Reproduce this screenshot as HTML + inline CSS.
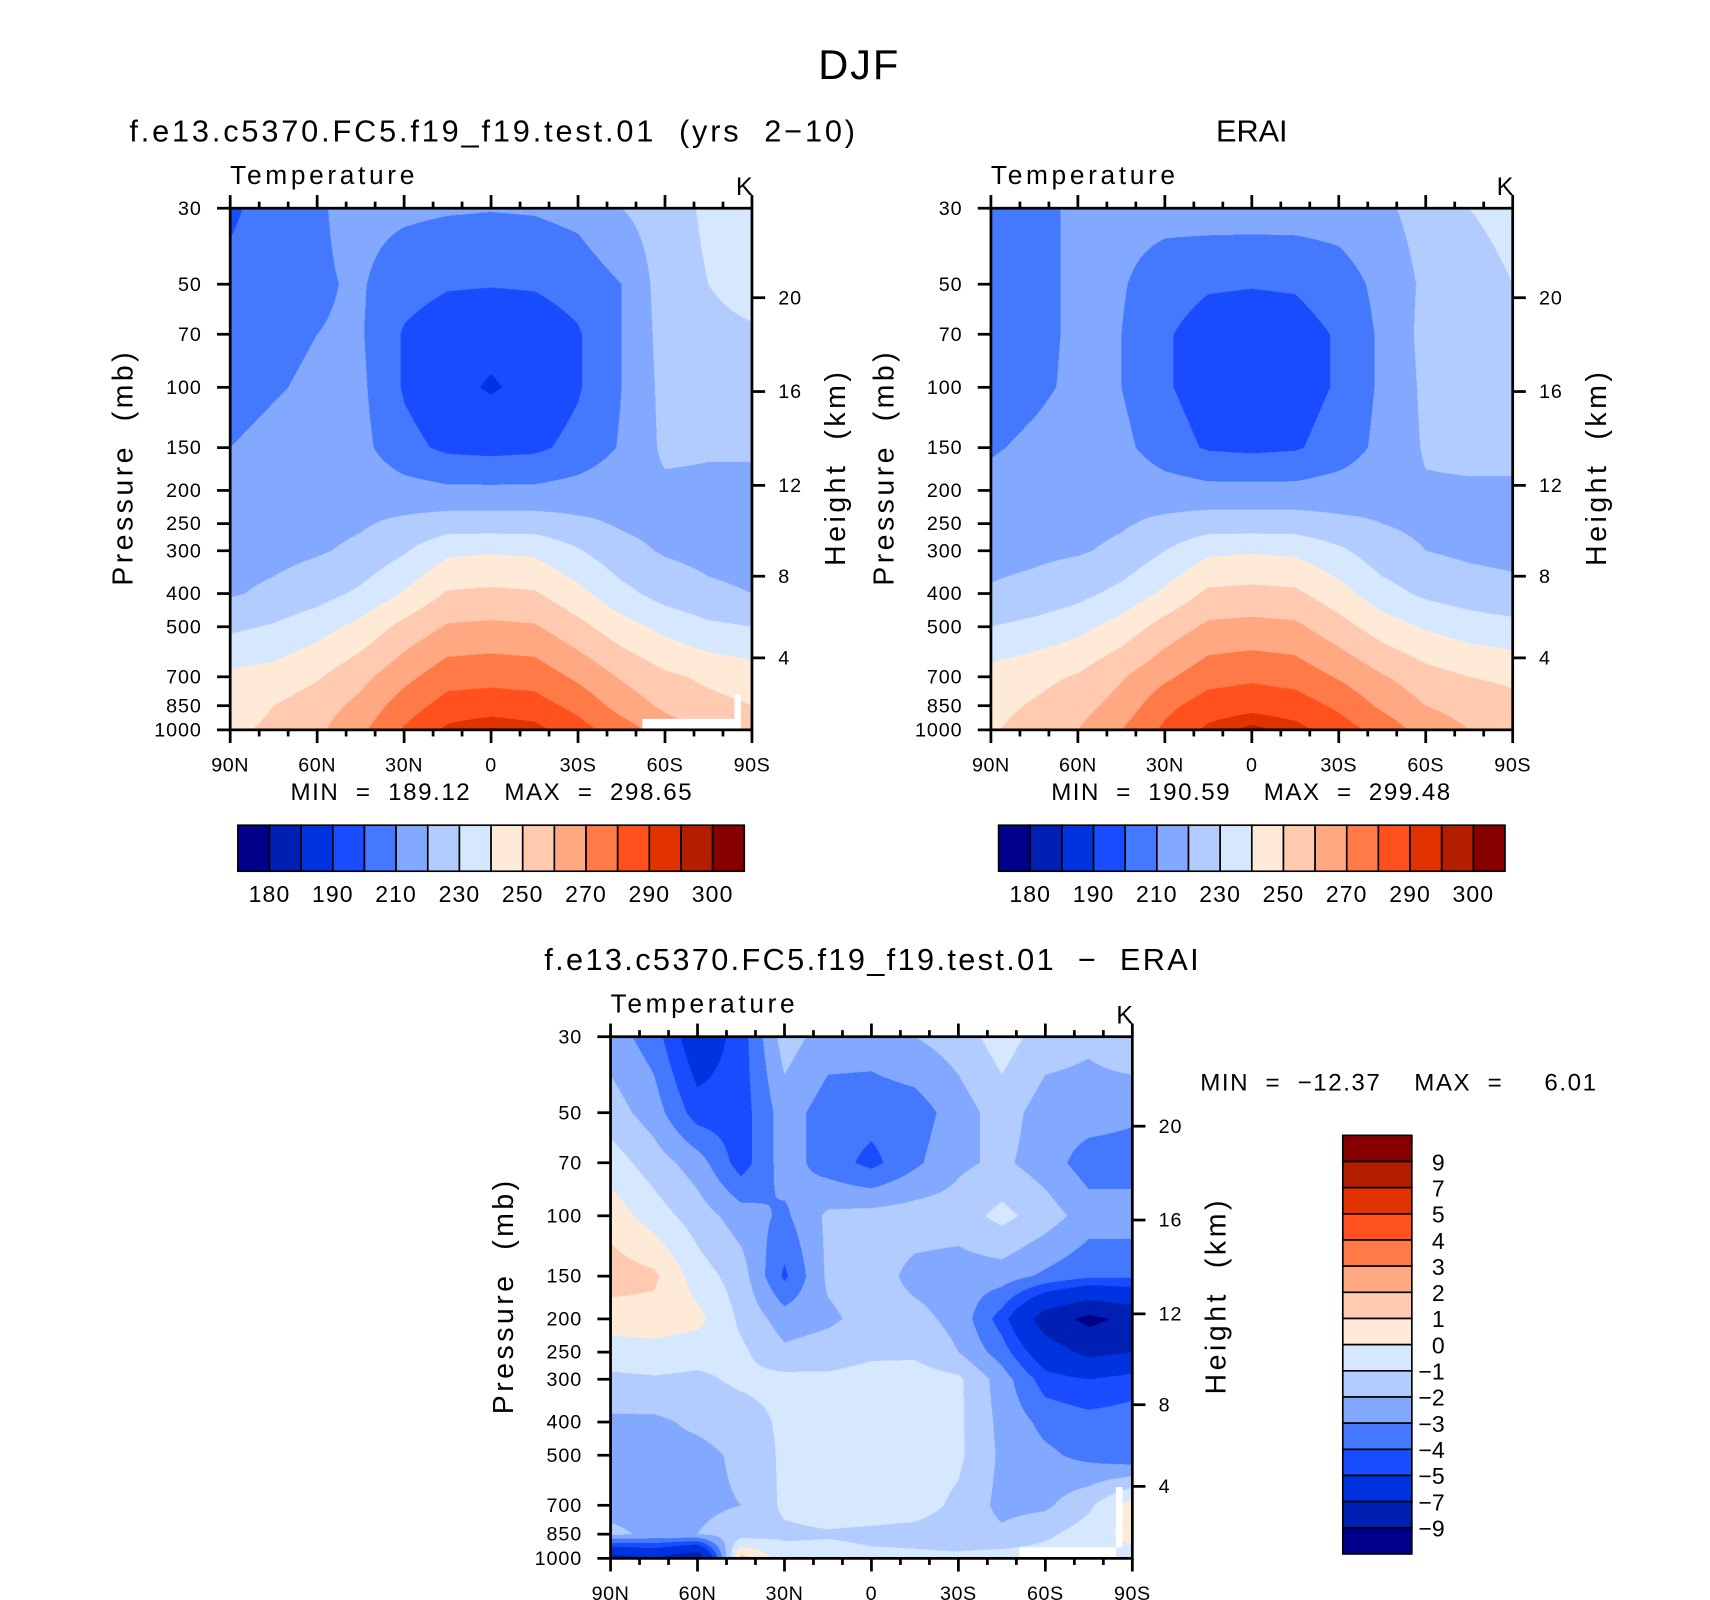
<!DOCTYPE html>
<html><head><meta charset="utf-8">
<style>
html,body{margin:0;padding:0;background:#fff;}
body{width:1710px;height:1600px;overflow:hidden;position:relative;}
#stage{position:absolute;left:0;top:0;width:1560px;height:1460px;transform:scale(1.09615,1.09589);transform-origin:0 0;}
canvas{position:absolute;}
svg{position:absolute;left:0;top:0;}
text{font-family:"Liberation Sans",sans-serif;fill:#000;white-space:pre;}
</style></head>
<body>
<div id="stage">
<canvas id="c1"></canvas>
<canvas id="c2"></canvas>
<canvas id="c3"></canvas>
<svg id="ov" width="1560" height="1460"></svg>
</div>
<script>
// ---------- data ----------
const lats = [90,75,60,45,30,15,0,-15,-30,-45,-60,-75,-90];
const plevs = [30,50,70,100,150,200,250,300,400,500,700,850,1000];
const modelT = [
[198,205,209,213,212,211,210.5,211,213,220,225,232,234],
[203,206,209,211,204,201,200.5,201,204,210,225,230,233],
[204,207,210,211,199,194,193,194,199,210,224,228,229],
[206,209,212,212,199,193,189,193,199,210,223,226,227],
[210,213,215,213,203,198,197,198,203,211,222,221,221],
[213,215,216,217,214,212,212,212,214,217,218,218,218],
[214,216,217,219,222,225,225,225,222,219,217,216,215],
[216,217,219,222,229,238,239,238,231,223,219,217,216],
[219,222,226,232,241,251,252,251,243,233,226,222,220],
[228,231,236,243,253,261,262,261,253,244,237,232,230],
[242,244,249,257,267,276,277,276,268,259,252,248,245],
[245,250,255,263,275,284,285,284,277,266,258,253,250],
[248,252,258,268,281,292,296,293,284,275,265,258,255]];
const eraT = [
[205,207,212,214,214,215,215,215,215,218,224,230,233],
[205,207,212,211,204,201,200.5,201,205,213,222,226,230],
[205,207,212,210,201,196,195,196,201,212,223,226,227],
[205,208,212,210,201,196,195,196,201,212,222,225,226],
[209,212,215,213,204,199,198,199,204,213,221,222,222],
[213,215,216,218,215,213,213,213,215,217,219,219,219],
[215,216,217,219,222,225,225,225,222,220,218,216,212],
[217,218,219,222,230,238,239,238,232,224,220,218,217],
[221,223,227,233,242,252,253,252,244,234,228,225,223],
[230,233,237,244,254,262,263,262,254,245,239,235,233],
[244,247,251,259,268,276,278,276,269,261,254,250,248],
[247,251,256,264,277,285,287,285,278,268,260,256,253],
[249,254,260,270,282,292,297,293,285,276,266,260,257]];
const diffT = [
[-2.5,-3.5,-6,-4.5,-1.5,-2.5,-2.5,-2,-1.5,-0.5,-1.5,-1.8,-1.2],
[-1.5,-2.5,-4.5,-4.5,-2.5,-3.5,-3.6,-3.5,-2.5,-1.5,-2.5,-2.5,-2.8],
[-0.5,-1.5,-2.5,-4.5,-2.5,-3.5,-4.3,-3.2,-2.2,-1.8,-2.5,-3.5,-3.5],
[0.6,-0.5,-1.5,-2.5,-3.2,-1.8,-1.6,-1.5,-1.5,-0.7,-1.5,-2.5,-2.5],
[1.5,1.2,-0.5,-1.5,-4.2,-1.8,-1.5,-2.3,-2.5,-2.5,-3.2,-3.8,-3.8],
[0.5,0.6,0.3,-1.2,-2.5,-2.2,-1.6,-1.7,-2.3,-4.5,-8,-9.5,-8.5],
[-0.5,-0.4,-0.6,-0.8,-1.8,-1.5,-1.2,-1.2,-2,-3.5,-6,-7.5,-7],
[-1.2,-1.1,-1.2,-0.8,-0.7,-0.8,-0.6,-0.5,-0.8,-2.5,-4.5,-5,-4.5],
[-2.2,-2.2,-1.8,-1.5,-0.8,-0.5,-0.5,-0.5,-0.8,-2.3,-3.3,-3.6,-3.5],
[-2.3,-2.3,-2.3,-1.8,-0.8,-0.5,-0.5,-0.5,-0.8,-2.2,-2.8,-3.3,-3.8],
[-2.3,-2.3,-2.2,-2.0,-0.8,-0.5,-0.5,-0.6,-1.2,-2.3,-2.2,-1.2,0.5],
[-1.8,-2.2,-2.0,-1.5,-1.2,-1.1,-1.2,-1.3,-1.5,-1.8,-1.2,-0.5,0.4],
[-8,-7,-9,1.5,-0.5,-0.6,-0.8,-0.8,-0.8,-0.5,-0.5,-0.5,-0.5]];
const tLevels = [180,185,190,200,210,220,230,240,250,260,270,280,290,295,300];
const tLabels = ["180","190","210","230","250","270","290","300"];
const dLevels = [-9,-7,-5,-4,-3,-2,-1,0,1,2,3,4,5,7,9];
const dLabels = ["9","7","5","4","3","2","1","0","\u22121","\u22122","\u22123","\u22124","\u22125","\u22127","\u22129"];
const palette = ["#00008a","#0020b4","#0033e0","#1a4cff","#4478ff","#82a8ff","#b3ccff","#d6e8ff","#ffead8","#ffcab0","#ffa882","#ff7a46","#ff501e","#e13200","#b41e00","#870000"];
const pTicks = [30,50,70,100,150,200,250,300,400,500,700,850,1000];
const zTicks = [4,8,12,16,20];
const xTickLabels = ["90N","60N","30N","0","30S","60S","90S"];

// ---------- helpers ----------
const W=476,H=476;
const LNR=Math.log(1000/30);
function yOfP(p){return H*Math.log(p/30)/LNR;}
function xOfLat(l){return W*(90-l)/180;}
function pOfZ(zkm){const z=zkm*1000;return z<11000?1013.25*Math.pow(1-2.25577e-5*z,5.25588):226.32*Math.exp(-(z-11000)/6341.6);}
function colorIdx(v,lev){let i=0;while(i<lev.length&&v>=lev[i])i++;return i;}
function hexRgb(h){return [parseInt(h.substr(1,2),16),parseInt(h.substr(3,2),16),parseInt(h.substr(5,2),16)];}
const rgb=palette.map(hexRgb);

function drawField(id,px,py,grid,lev){
  const cv=document.getElementById(id);
  const S=2;cv.width=W*S;cv.height=H*S;
  cv.style.left=px+'px';cv.style.top=py+'px';cv.style.width=W+'px';cv.style.height=H+'px';
  const ctx=cv.getContext('2d');const img=ctx.createImageData(W*S,H*S);
  const gy=plevs.map(yOfP), gx=lats.map(xOfLat);
  for(let j=0;j<H*S;j++){
    const y=(j+0.5)/S;let k=0;while(k<gy.length-2&&y>gy[k+1])k++;
    const ty=Math.min(1,Math.max(0,(y-gy[k])/(gy[k+1]-gy[k])));
    for(let i=0;i<W*S;i++){
      const x=(i+0.5)/S;let m=0;while(m<gx.length-2&&x>gx[m+1])m++;
      const tx=Math.min(1,Math.max(0,(x-gx[m])/(gx[m+1]-gx[m])));
      const a=grid[k][m]*(1-tx)+grid[k][m+1]*tx, b=grid[k+1][m]*(1-tx)+grid[k+1][m+1]*tx;
      const v=a*(1-ty)+b*ty;const c=rgb[colorIdx(v,lev)];
      const o=(j*W*S+i)*4;img.data[o]=c[0];img.data[o+1]=c[1];img.data[o+2]=c[2];img.data[o+3]=255;
    }
  }
  ctx.putImageData(img,0,0);
}
const NS='http://www.w3.org/2000/svg';const ov=document.getElementById('ov');
function el(tag,attrs,parent){const e=document.createElementNS(NS,tag);for(const k in attrs)e.setAttribute(k,attrs[k]);(parent||ov).appendChild(e);return e;}
function txt(s,x,y,size,anchor,parent,len){const a={x:x,y:y,'font-size':size,'text-anchor':anchor||'start'};if(len){a.textLength=len;a.lengthAdjust='spacing';}const t=el('text',a,parent);t.textContent=s;return t;}

function axes(px,py,name,title,titleX,titleLen){
  const g=el('g',{});
  
  
  const t=txt(title,titleX,py-61,28,'middle',g,titleLen);
  
  
  const tt=txt('Temperature',px,py-22,24,'start',g,168);
  
  
  const k=txt('K',px+W-7,py-12,23,'middle',g);
  
  
  el('rect',{x:px,y:py,width:W,height:H,fill:'none',stroke:'#000','stroke-width':2.5},g);
  pTicks.forEach(p=>{const y=py+yOfP(p);
    el('line',{x1:px-12,y1:y,x2:px,y2:y,stroke:'#000','stroke-width':2.5},g);
    const l=txt(String(p),px-26,y+6,18,'end',g);
    l.setAttribute('letter-spacing','0.8');
    
    });
  zTicks.forEach(z=>{const y=py+yOfP(pOfZ(z));
    el('line',{x1:px+W,y1:y,x2:px+W+12,y2:y,stroke:'#000','stroke-width':2.5},g);
    const l=txt(String(z),px+W+24,y+6,18,'start',g);
    l.setAttribute('letter-spacing','0.8');
    
    });
  for(let lat=90;lat>=-90;lat-=10){const x=px+xOfLat(lat);const major=(lat%30===0);const len=major?12:6;
    el('line',{x1:x,y1:py,x2:x,y2:py-len,stroke:'#000','stroke-width':2.5},g);
    el('line',{x1:x,y1:py+H,x2:x,y2:py+H+len,stroke:'#000','stroke-width':2.5},g);}
  xTickLabels.forEach((s,i)=>{const l=txt(s,px+i*W/6,py+H+38,18,'middle',g);
    l.setAttribute('letter-spacing','0.5');
    
    });
  const yl=txt('Pressure  (mb)',0,0,26,'middle',g,213);yl.setAttribute('transform','translate('+(px-89)+','+(py+238)+') rotate(-90)');
  
  
  const yr=txt('Height  (km)',0,0,26,'middle',g,177);yr.setAttribute('transform','translate('+(px+W+85)+','+(py+238)+') rotate(-90)');
  
  
  return g;
}
function hbar(px,py,name){
  const g=el('g',{});
  
  
  const bw=462/16;
  palette.forEach((c,i)=>{el('rect',{x:px+i*bw,y:py,width:bw,height:42,fill:c,stroke:'#000','stroke-width':1.5},g);});
  tLabels.forEach((s,i)=>{const l=txt(s,px+(2*i+1)*bw,py+70,21,'middle',g);
    l.setAttribute('letter-spacing','1');
    
    });
}

const dj=txt('DJF',783,72,38,'middle',null,73);



drawField('c1',210,190,modelT,tLevels);
drawField('c2',904,190,eraT,tLevels);
drawField('c3',557,946,diffT,dLevels);
el('rect',{x:586,y:656,width:84,height:10,fill:'#fff'});
el('rect',{x:670,y:634,width:6,height:32,fill:'#fff'});
el('rect',{x:930,y:1412,width:88,height:10,fill:'#fff'});
el('rect',{x:1018,y:1357,width:6,height:55,fill:'#fff'});

axes(210,190,'model-panel','f.e13.c5370.FC5.f19_f19.test.01  (yrs  2\u221210)',449,662);
axes(904,190,'erai-panel','ERAI',1142,null);
axes(557,946,'difference-panel','f.e13.c5370.FC5.f19_f19.test.01  \u2212  ERAI',795,597);

const m1=txt('MIN  =  189.12    MAX  =  298.65',448,730,22,'middle',null,366);


const m2=txt('MIN  =  190.59    MAX  =  299.48',1141,730,22,'middle',null,364);


const m3=txt('MIN  =  \u221212.37    MAX  =     6.01',1095,995,22,'start',null,361);



hbar(217,753,'model-colorbar');
hbar(911,753,'erai-colorbar');
const vg=el('g',{});


const bh=382/16;
palette.slice().reverse().forEach((c,i)=>{el('rect',{x:1225,y:1036+i*bh,width:63,height:bh,fill:c,stroke:'#000','stroke-width':1.5},vg);});
dLabels.forEach((s,i)=>{const l=txt(s,1318,1036+(i+1)*bh+8,21,'end',vg);
  
  });
</script>
</body></html>
